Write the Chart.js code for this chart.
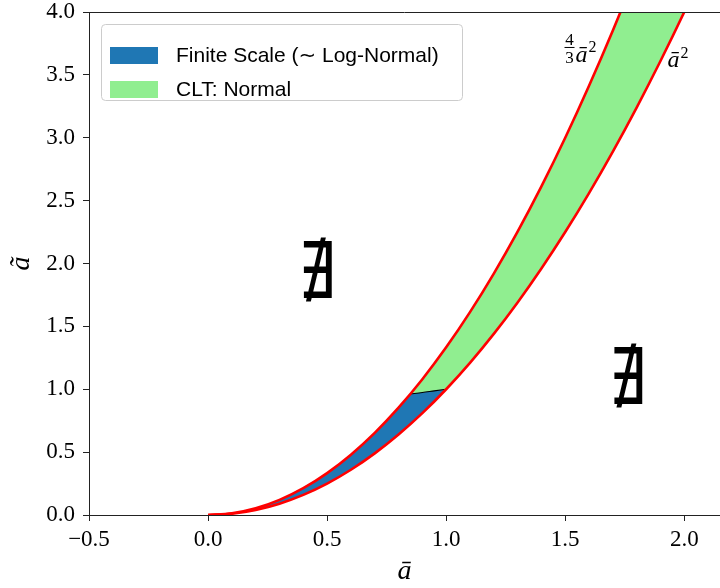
<!DOCTYPE html>
<html>
<head>
<meta charset="utf-8">
<script src="https://cdn.jsdelivr.net/npm/chart.js@4.4.1/dist/chart.umd.min.js"></script>
<style>
  html, body { margin: 0; padding: 0; background: #fff; }
  #wrap { width: 720px; height: 588px; }
</style>
</head>
<body>
<div id="wrap"><canvas id="regionChart" width="720" height="588"></canvas></div>
<script>
// sample points along a-bar
const abar = [0, 0.1, 0.2, 0.3, 0.4, 0.5, 0.6, 0.7, 0.8, 0.9, 1.0, 1.1,
              1.2, 1.3, 1.4, 1.5, 1.6, 1.7, 1.8, 1.9, 2.0, 2.1, 2.2];
// lower boundary: a-bar^2
const lowerCurve = [0, 0.01, 0.04, 0.09, 0.16, 0.25, 0.36, 0.49, 0.64, 0.81, 1.0, 1.21,
                    1.44, 1.69, 1.96, 2.25, 2.56, 2.89, 3.24, 3.61, 4.0, 4.41, 4.84];
// upper boundary: 4/3 a-bar^2
const upperCurve = [0, 0.0133, 0.0533, 0.12, 0.2133, 0.3333, 0.48, 0.6533, 0.8533, 1.08, 1.3333, 1.6133,
                    1.92, 2.2533, 2.6133, 3.0, 3.4133, 3.8533, 4.32, 4.8133, 5.3333, 5.88, 6.4533];
// finite scale region, closed off by the cut-off arc
const finiteX = [0, 0.1, 0.2, 0.3, 0.4, 0.5, 0.6, 0.7, 0.8, 0.85, 0.9, 0.95, 1.0];
const finiteY = [0, 0.0133, 0.0533, 0.12, 0.2133, 0.3333, 0.48, 0.6533, 0.8533, 0.9633, 0.974, 0.9873, 1.0];
const cutoffX = [0.85, 0.9, 0.95, 1.0];
const cutoffY = [0.9633, 0.974, 0.9873, 1.0];

const xTicks = [-0.5, 0.0, 0.5, 1.0, 1.5, 2.0];
const yTicks = [0.0, 0.5, 1.0, 1.5, 2.0, 2.5, 3.0, 3.5, 4.0];

const pts = (xs, ys) => xs.map((x, i) => ({ x: x, y: ys[i] }));
const fmt = v => v.toFixed(1).replace('-', '\u2212');

const SERIF = '"Liberation Serif", "DejaVu Serif", serif';
const SANS = '"Liberation Sans", "DejaVu Sans", sans-serif';

// ===== LEGEND IN A ROUNDED FRAME (upper left of the plot) =====
const framedLegend = {
    id: 'framedLegend',
    afterDraw(chart, args, opts) {
        const ctx = chart.ctx;
        const area = chart.chartArea;
        const items = chart.data.datasets.filter(d => d.inLegend);
        const x0 = area.left + opts.inset;
        const y0 = area.top + opts.inset;

        ctx.save();
        ctx.beginPath();
        ctx.roundRect(x0 + 0.5, y0 + 0.5, opts.width, opts.height, 4);
        ctx.fillStyle = 'rgba(255,255,255,0.8)';
        ctx.fill();
        ctx.strokeStyle = '#cccccc';
        ctx.lineWidth = 1;
        ctx.stroke();

        ctx.font = opts.font;
        ctx.textBaseline = 'middle';
        ctx.textAlign = 'left';
        items.forEach((d, i) => {
            const cy = y0 + opts.firstRow + i * opts.rowGap;
            ctx.fillStyle = d.backgroundColor;
            ctx.fillRect(x0 + 9, cy - 8, 48, 17);
            ctx.fillStyle = '#000';
            ctx.fillText(d.label, x0 + 75, cy + 1);
        });
        ctx.restore();
    }
};

// ===== TEXT PLACED IN DATA COORDINATES =====
const plotNotes = {
    id: 'plotNotes',
    afterDatasetsDraw(chart) {
        const ctx = chart.ctx;
        const xs = chart.scales.x, ys = chart.scales.y;
        const area = chart.chartArea;

        ctx.save();
        // top spine
        ctx.strokeStyle = '#222';
        ctx.lineWidth = 1;
        ctx.beginPath();
        ctx.moveTo(area.left, Math.round(area.top) + 0.5);
        ctx.lineTo(area.right, Math.round(area.top) + 0.5);
        ctx.stroke();

        ctx.fillStyle = '#000';
        // "does not exist" marks
        ctx.font = '78px "DejaVu Sans"';
        ctx.textAlign = 'center';
        ctx.textBaseline = 'middle';
        [[0.457, 1.89], [1.761, 1.04]].forEach(([a, b]) => {
            const px = xs.getPixelForValue(a), py = ys.getPixelForValue(b);
            ctx.save();
            ctx.translate(px, py);
            ctx.scale(0.76, 1);
            ctx.fillText('\u2204', 0, 0);
            ctx.restore();
        });

        // a-bar^2 label
        let px = xs.getPixelForValue(1.93), py = ys.getPixelForValue(3.56);
        ctx.textAlign = 'left';
        ctx.textBaseline = 'alphabetic';
        ctx.font = 'italic 24px ' + SERIF;
        ctx.fillText('\u0101', px, py);
        ctx.font = '16px ' + SERIF;
        ctx.fillText('2', px + 13, py - 9);

        // 4/3 a-bar^2 label
        px = xs.getPixelForValue(1.518);
        py = ys.getPixelForValue(3.714);
        ctx.font = '17px ' + SERIF;
        ctx.textAlign = 'center';
        ctx.fillText('4', px, py - 3);
        ctx.fillText('3', px, py + 15);
        ctx.fillRect(px - 5, py - 1, 10, 1);
        ctx.textAlign = 'left';
        ctx.font = 'italic 24px ' + SERIF;
        ctx.fillText('\u0101', px + 6, py + 14);
        ctx.font = '16px ' + SERIF;
        ctx.fillText('2', px + 19, py + 4);
        ctx.restore();
    }
};

const tickStyle = { color: '#000', font: { family: SERIF, size: 23 }, callback: fmt };
const gridStyle = { drawOnChartArea: false, drawTicks: true, tickLength: 6, tickColor: '#222', tickWidth: 1 };

new Chart(document.getElementById('regionChart'), {
    type: 'line',
    data: {
        datasets: [
            {
                label: 'Finite Scale (\u223C Log-Normal)', inLegend: true,
                data: pts(finiteX, finiteY),
                backgroundColor: '#1f77b4', borderWidth: 0, pointRadius: 0,
                tension: 0, fill: 3, order: 3
            },
            {
                label: 'CLT: Normal', inLegend: true,
                data: pts(abar, upperCurve),
                backgroundColor: '#90ee90', borderWidth: 0, pointRadius: 0,
                cubicInterpolationMode: 'monotone', fill: 3, order: 4
            },
            {
                label: 'upper', data: pts(abar, upperCurve),
                borderColor: '#ff0000', borderWidth: 2.6, pointRadius: 0,
                cubicInterpolationMode: 'monotone', fill: false, order: 1
            },
            {
                label: 'lower', data: pts(abar, lowerCurve),
                borderColor: '#ff0000', borderWidth: 2.6, pointRadius: 0,
                cubicInterpolationMode: 'monotone', fill: false, order: 1
            },
            {
                label: 'cutoff', data: pts(cutoffX, cutoffY),
                borderColor: '#000', borderWidth: 1.1, pointRadius: 0,
                cubicInterpolationMode: 'monotone', fill: false, order: 2
            }
        ]
    },
    options: {
        responsive: false,
        animation: false,
        devicePixelRatio: 1,
        layout: { padding: { top: 12, right: 0, bottom: 0, left: 0 } },
        plugins: {
            legend: { display: false },
            tooltip: { enabled: false },
            framedLegend: {
                inset: 12, width: 361, height: 76, firstRow: 31, rowGap: 34,
                font: '21px ' + SANS
            }
        },
        scales: {
            x: {
                type: 'linear', min: -0.5, max: 2.15,
                afterBuildTicks: s => { s.ticks = xTicks.map(v => ({ value: v })); },
                afterFit: s => { s.height = 73; s.paddingLeft = 0; s.paddingRight = 0; },
                ticks: Object.assign({ padding: 5, maxRotation: 0 }, tickStyle),
                grid: gridStyle,
                border: { color: '#222', width: 1 },
                title: {
                    display: true, text: '\u0101', color: '#000',
                    font: { family: SERIF, size: 28, style: 'italic' },
                    padding: { top: 0, bottom: 0 }
                }
            },
            y: {
                type: 'linear', min: 0, max: 4,
                afterBuildTicks: s => { s.ticks = yTicks.map(v => ({ value: v })); },
                afterFit: s => { s.width = 89; s.paddingTop = 0; s.paddingBottom = 0; },
                ticks: Object.assign({ padding: 8 }, tickStyle),
                grid: gridStyle,
                border: { color: '#222', width: 1 },
                title: {
                    display: true, text: '\u00E3', color: '#000',
                    font: { family: SERIF, size: 28, style: 'italic' },
                    padding: { top: 5, bottom: 0 }
                }
            }
        }
    },
    plugins: [plotNotes, framedLegend]
});
</script>
</body>
</html>
